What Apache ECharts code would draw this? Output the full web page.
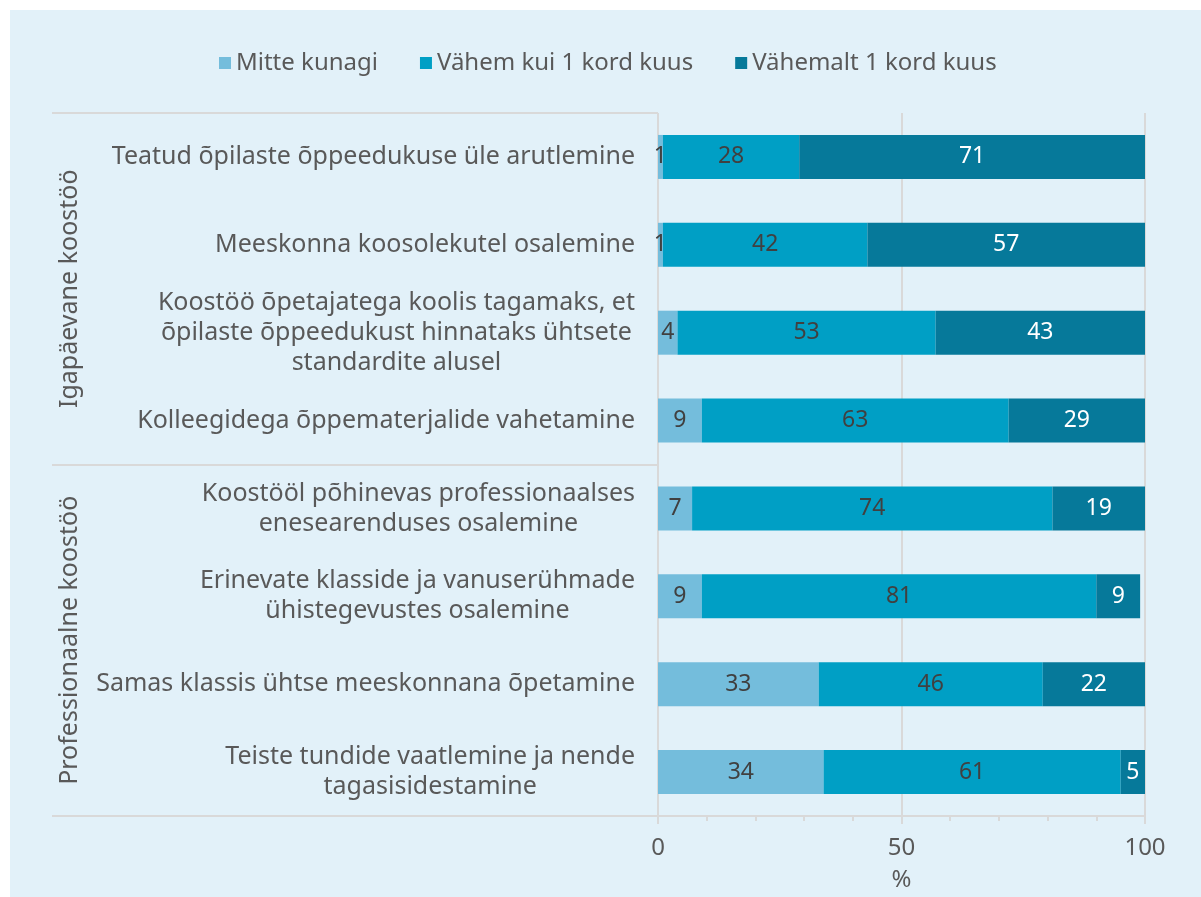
<!DOCTYPE html>
<html>
<head>
<meta charset="utf-8">
<script src="https://cdn.jsdelivr.net/npm/echarts@6/dist/echarts.min.js"></script>
<style>
  html, body { margin: 0; padding: 0; background: #ffffff; }
  #chart { position: absolute; left: 10px; top: 10px; width: 1191px; height: 887px; }
</style>
</head>
<body>
<div id="chart"></div>
<script>
const categories = [
  "Teatud õpilaste õppeedukuse üle arutlemine",
  "Meeskonna koosolekutel osalemine",
  "Koostöö õpetajatega koolis tagamaks, et\nõpilaste õppeedukust hinnataks ühtsete\nstandardite alusel",
  "Kolleegidega õppematerjalide vahetamine",
  "Koostööl põhinevas professionaalses\nenesearenduses osalemine",
  "Erinevate klasside ja vanuserühmade\nühistegevustes osalemine",
  "Samas klassis ühtse meeskonnana õpetamine",
  "Teiste tundide vaatlemine ja nende\ntagasisidestamine"
];
const groups = ["Igapäevane koostöö", "Professionaalne koostöö"];
const seriesNames = ["Mitte kunagi", "Vähem kui 1 kord kuus", "Vähemalt 1 kord kuus"];
const mitteKunagi = [1, 1, 4, 9, 7, 9, 33, 34];
const vahemKui = [28, 42, 53, 63, 74, 81, 46, 61];
const vahemalt = [71, 57, 43, 29, 19, 9, 22, 5];
const xTicks = [0, 50, 100];

const FONT = "'Noto Sans', sans-serif";
const TXT = '#595959';
const GRID = '#D9D9D9';
const colors = ['#74BDDC', '#009FC5', '#06799A'];
const labelColors = ['#404040', '#404040', '#ffffff'];

const chart = echarts.init(document.getElementById('chart'), null, { renderer: 'canvas' });

const dataSets = [mitteKunagi, vahemKui, vahemalt];
const series = seriesNames.map((name, i) => ({
  name: name,
  type: 'bar',
  stack: 'total',
  barWidth: 44,
  data: dataSets[i],
  itemStyle: { color: colors[i] },
  label: {
    show: true,
    position: 'inside',
    fontFamily: FONT,
    fontSize: 23,
    color: labelColors[i]
  },
  emphasis: { disabled: true }
}));

chart.setOption({
  backgroundColor: '#E2F1F9',
  animation: false,
  color: colors,
  legend: {
    data: seriesNames,
    left: 204,
    top: 36,
    icon: 'rect',
    itemWidth: 12,
    itemHeight: 12,
    itemGap: 42,
    textStyle: { fontFamily: FONT, fontSize: 24, color: TXT }
  },
  grid: { left: 648, right: 56, top: 103, bottom: 79, containLabel: false },
  xAxis: {
    type: 'value',
    min: xTicks[0],
    max: xTicks[xTicks.length - 1],
    interval: 50,
    name: '%',
    nameLocation: 'middle',
    nameGap: 52,
    nameTextStyle: { fontFamily: FONT, fontSize: 24, color: TXT },
    axisLine: { show: true, lineStyle: { color: GRID, width: 2 } },
    axisTick: { show: true, length: 8, lineStyle: { color: GRID, width: 2 } },
    minorTick: { show: true, splitNumber: 5, length: 5, lineStyle: { color: GRID, width: 2 } },
    splitLine: { show: true, lineStyle: { color: GRID, width: 2 } },
    axisLabel: { fontFamily: FONT, fontSize: 24, color: TXT, margin: 20 }
  },
  yAxis: [
    {
      type: 'category',
      inverse: true,
      data: categories,
      position: 'left',
      axisLine: { show: false },
      axisTick: { show: false },
      axisLabel: {
        interval: 0,
        margin: 23,
        fontFamily: FONT,
        fontSize: 25,
        color: TXT,
        lineHeight: 30,
        formatter: function (value) {
          return value.split('\n').map(l => '{c|' + l + '}').join('\n');
        },
        rich: {
          c: { align: 'center', fontFamily: FONT, fontSize: 25, color: TXT, lineHeight: 30 }
        }
      }
    },
    {
      type: 'category',
      inverse: true,
      data: groups,
      position: 'left',
      axisLine: { show: false },
      axisTick: { show: true, interval: 0, length: 606, lineStyle: { color: GRID, width: 2 } },
      axisLabel: {
        interval: 0,
        rotate: 90,
        margin: 576,
        fontFamily: FONT,
        fontSize: 25,
        color: TXT
      }
    }
  ],
  series: series
});
</script>
</body>
</html>
